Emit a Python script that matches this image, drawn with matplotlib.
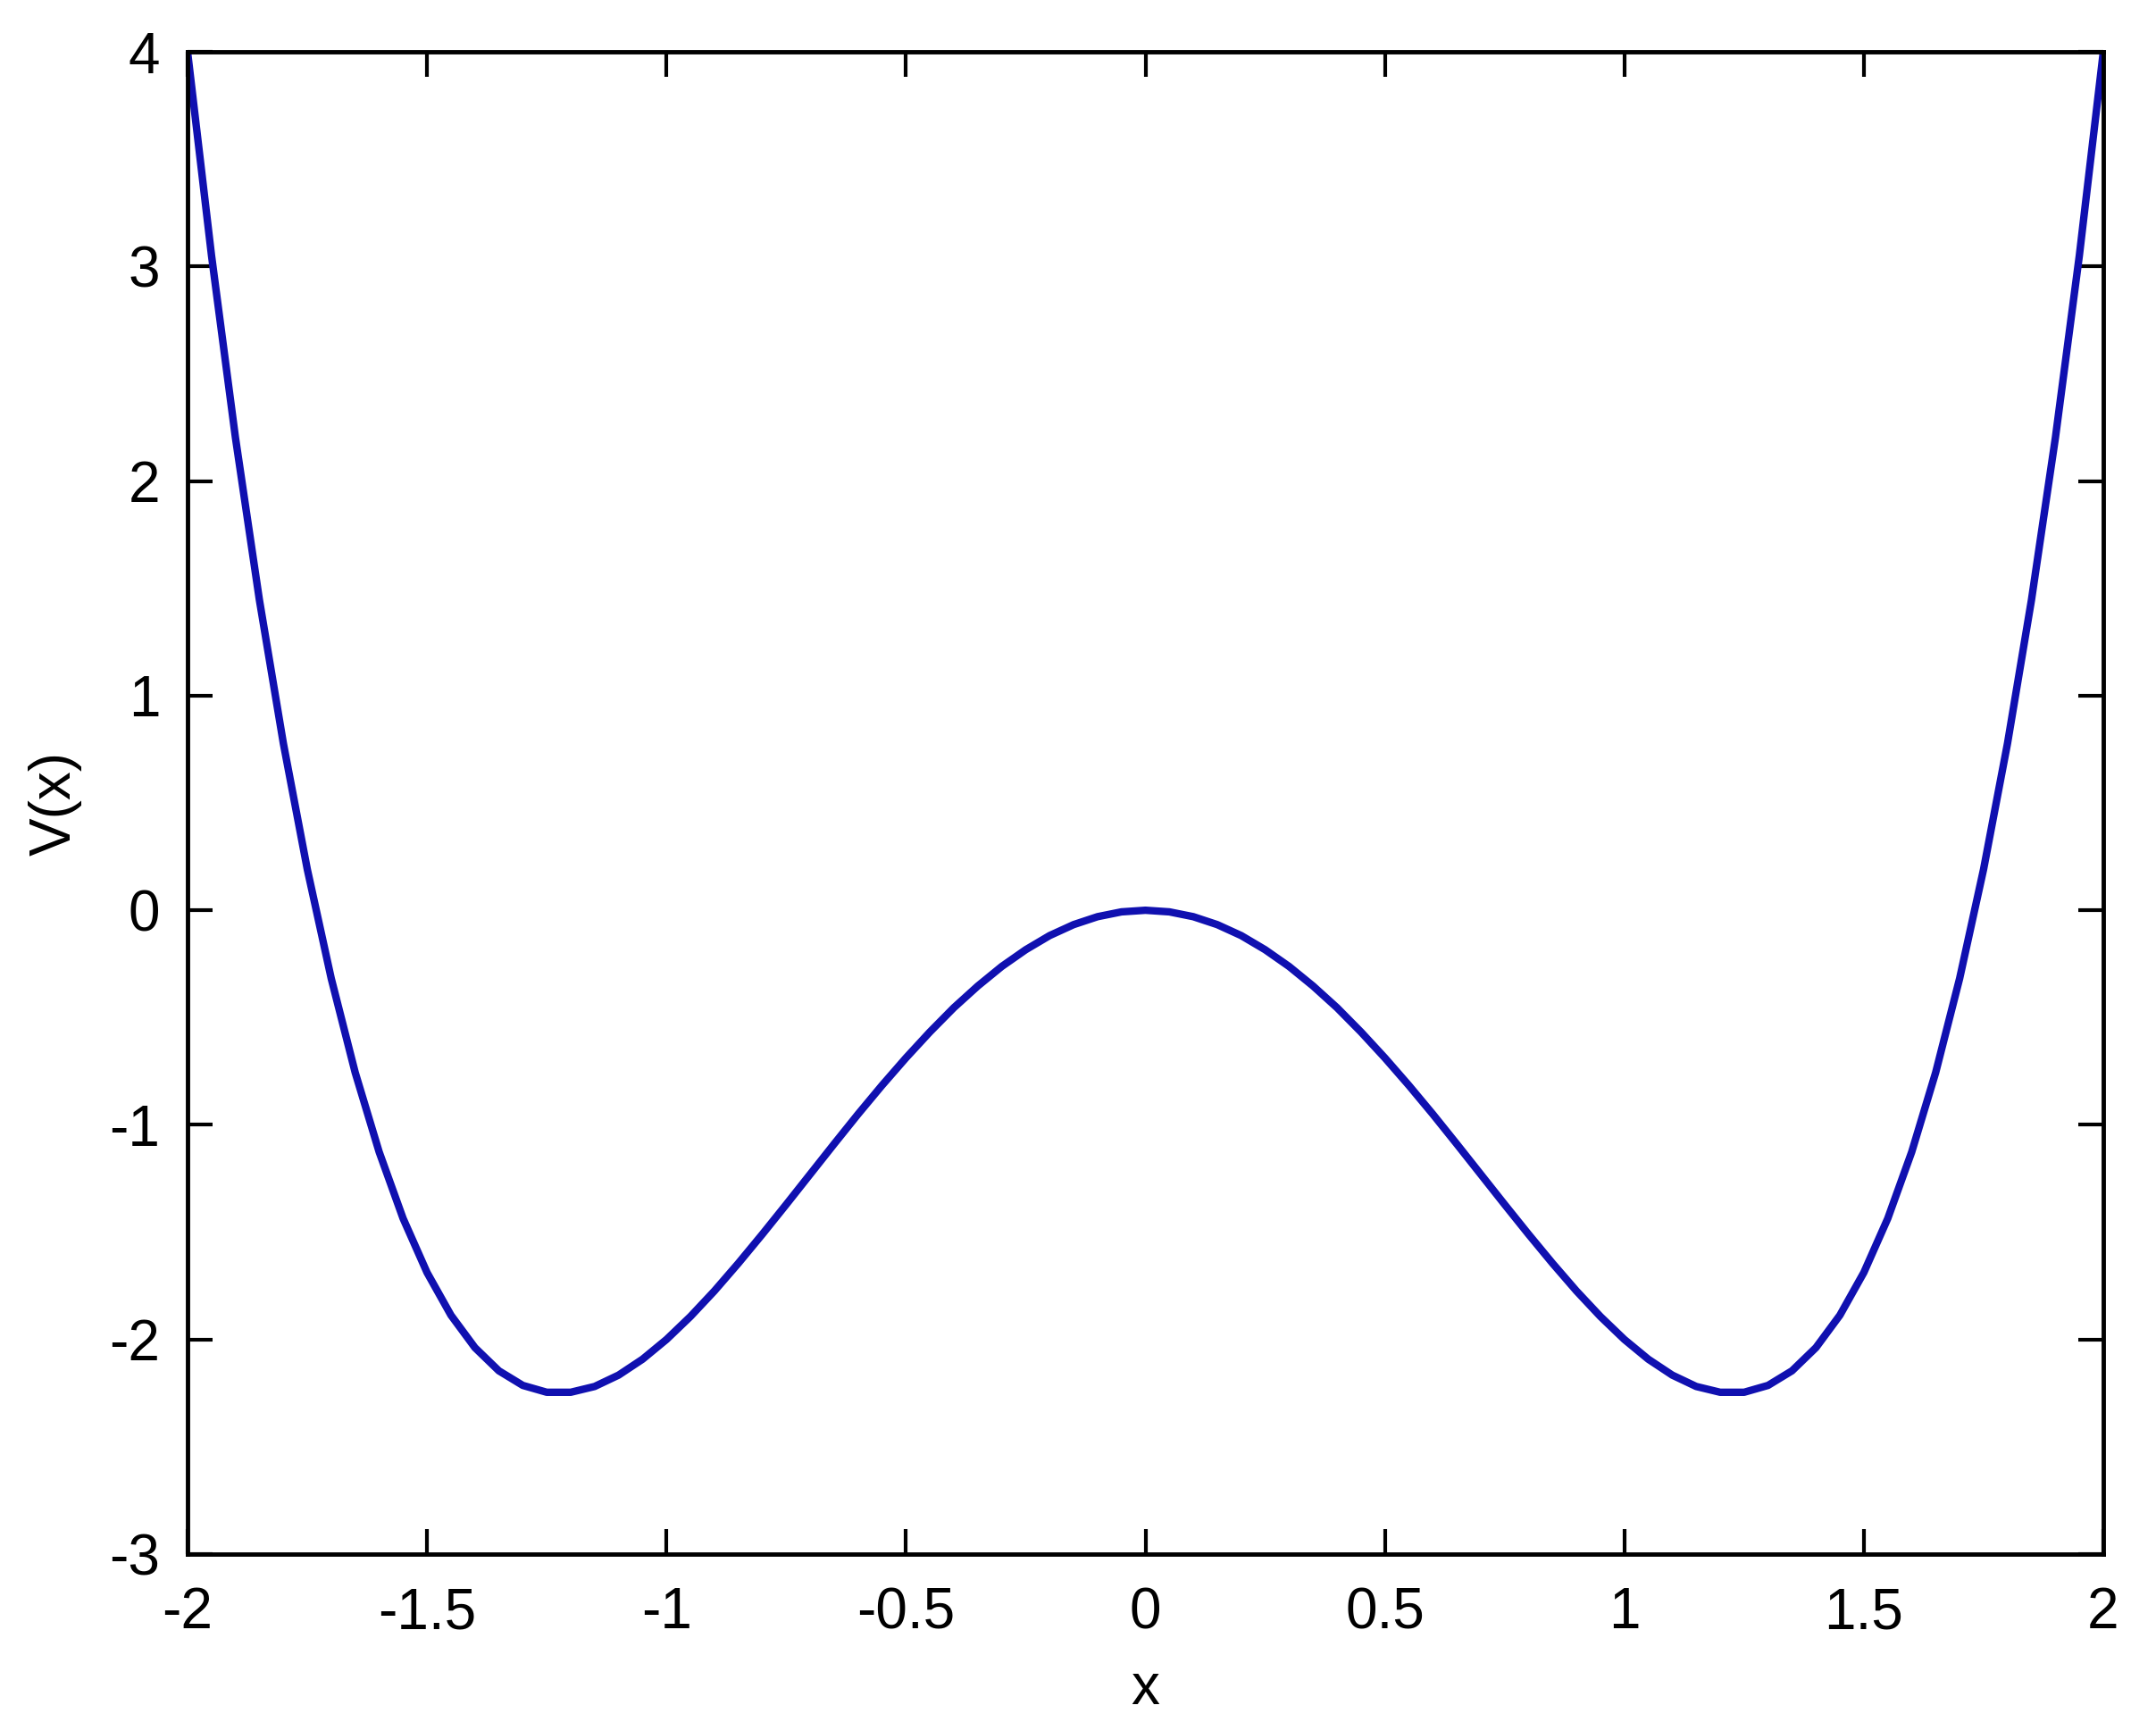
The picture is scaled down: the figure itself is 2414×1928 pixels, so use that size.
import matplotlib
matplotlib.use("Agg")
import matplotlib.pyplot as plt
import numpy as np

# values
x_vals = [-2.0, -1.95, -1.9, -1.85, -1.8, -1.75, -1.7, -1.65, -1.6, -1.55,
          -1.5, -1.45, -1.4, -1.35, -1.3, -1.25, -1.2, -1.15, -1.1, -1.05,
          -1.0, -0.95, -0.9, -0.85, -0.8, -0.75, -0.7, -0.65, -0.6, -0.55,
          -0.5, -0.45, -0.4, -0.35, -0.3, -0.25, -0.2, -0.15, -0.1, -0.05,
          0.0, 0.05, 0.1, 0.15, 0.2, 0.25, 0.3, 0.35, 0.4, 0.45,
          0.5, 0.55, 0.6, 0.65, 0.7, 0.75, 0.8, 0.85, 0.9, 0.95,
          1.0, 1.05, 1.1, 1.15, 1.2, 1.25, 1.3, 1.35, 1.4, 1.45,
          1.5, 1.55, 1.6, 1.65, 1.7, 1.75, 1.8, 1.85, 1.9, 1.95, 2.0]
v_vals = [4.0, 3.051, 2.202, 1.446, 0.778, 0.191, -0.318, -0.756, -1.126, -1.436,
          -1.688, -1.887, -2.038, -2.146, -2.214, -2.246, -2.246, -2.219, -2.166, -2.092,
          -2.0, -1.893, -1.774, -1.645, -1.510, -1.371, -1.230, -1.089, -0.950, -0.816,
          -0.688, -0.567, -0.454, -0.353, -0.262, -0.184, -0.118, -0.067, -0.030, -0.0075,
          0.0, -0.0075, -0.030, -0.067, -0.118, -0.184, -0.262, -0.353, -0.454, -0.567,
          -0.688, -0.816, -0.950, -1.089, -1.230, -1.371, -1.510, -1.645, -1.774, -1.893,
          -2.0, -2.092, -2.166, -2.219, -2.246, -2.246, -2.214, -2.146, -2.038, -1.887,
          -1.688, -1.436, -1.126, -0.756, -0.318, 0.191, 0.778, 1.446, 2.202, 3.051, 4.0]
x_ticks = [-2, -1.5, -1, -0.5, 0, 0.5, 1, 1.5, 2]
x_ticklabels = ["-2", "-1.5", "-1", "-0.5", "0", "0.5", "1", "1.5", "2"]
y_ticks = [-3, -2, -1, 0, 1, 2, 3, 4]
y_ticklabels = ["-3", "-2", "-1", "0", "1", "2", "3", "4"]

plt.rcParams['font.family'] = ['Liberation Sans', 'DejaVu Sans']

fig = plt.figure(figsize=(24.14, 19.28), dpi=100)
ax = fig.add_axes([210/2414, 1 - 1740/1928, (2355-210)/2414, (1740-58)/1928])

ax.plot(x_vals, v_vals, color='#1010b0', linewidth=6.0, solid_joinstyle='round')

ax.set_xlim(-2, 2)
ax.set_ylim(-3, 4)
ax.set_xticks(x_ticks)
ax.set_xticklabels(x_ticklabels)
ax.set_yticks(y_ticks)
ax.set_yticklabels(y_ticklabels)

ax.tick_params(direction='in', length=20, width=3, labelsize=46,
               top=True, right=True, pad=22, colors='black')
ax.tick_params(axis='x', pad=26)
for s in ax.spines.values():
    s.set_linewidth(3.5)
    s.set_color('black')

ax.set_xlabel('x', fontsize=46, labelpad=18)
ax.set_ylabel('V(x)', fontsize=46, labelpad=22)

fig.savefig('out.png', dpi=100, facecolor='white')
